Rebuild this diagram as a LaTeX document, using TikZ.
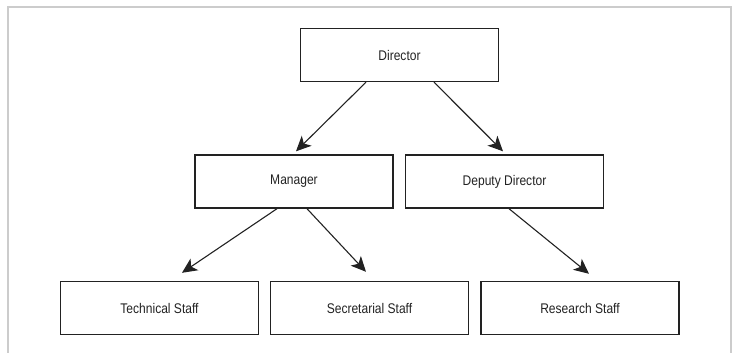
\documentclass[tikz,border=0pt]{standalone}
\usepackage{fontspec}
\setmainfont[FakeStretch=0.86]{Liberation Sans}
\usetikzlibrary{arrows.meta}
\definecolor{ink}{HTML}{222222}
\definecolor{framegray}{HTML}{CCCCCC}
\begin{document}
\begin{tikzpicture}[x=1pt,y=-1pt,
  box/.style={draw=ink, line width=1.4pt, minimum width=198pt, minimum height=53pt, inner sep=0pt, font=\fontsize{14}{16}\selectfont, text=ink},
  conn/.style={draw=ink, line width=1.1pt, -{Stealth[length=15pt,width=14pt,inset=4pt]}}]
\useasboundingbox (0,0) rectangle (732,353);
\draw[framegray, line width=1.6pt] (8,353) -- (8,7) -- (731,7) -- (731,353);
\node[box] (dir) at (399.5,55) {Director};
\node[box] (man) at (294,181.5) {Manager};
\node[box] (dep) at (504.5,181.5) {Deputy Director};
\node[box] (tec) at (159.5,308) {Technical Staff};
\node[box] (sec) at (369.5,308) {Secretarial Staff};
\node[box] (res) at (580,308) {Research Staff};
\draw[conn] ([xshift=-33.5pt]dir.south) -- ([xshift=2pt,yshift=3pt]man.north);
\draw[conn] ([xshift=34.5pt]dir.south) -- ([xshift=-1.5pt,yshift=3pt]dep.north);
\draw[conn] ([xshift=-17pt]man.south) -- ([xshift=22.5pt,yshift=8pt]tec.north);
\draw[conn] ([xshift=13pt]man.south) -- ([xshift=-3.5pt,yshift=9pt]sec.north);
\draw[conn] ([xshift=4.5pt]dep.south) -- ([xshift=9pt,yshift=7pt]res.north);
\end{tikzpicture}
\end{document}
